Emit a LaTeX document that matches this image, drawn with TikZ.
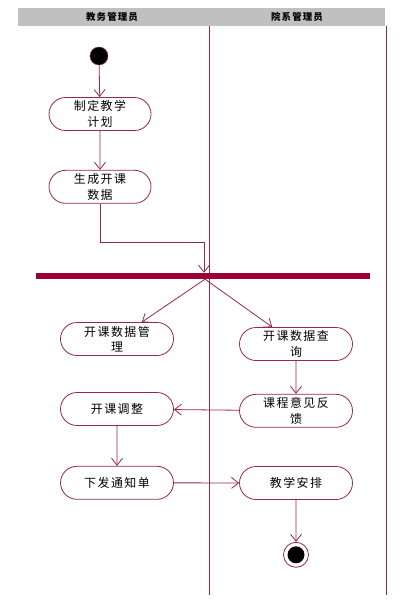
\documentclass[tikz,border=0pt]{standalone}
\usepackage{fontspec}
\setmainfont{Noto Sans CJK SC}
\usetikzlibrary{positioning,arrows.meta,shapes.misc}
\definecolor{umlred}{RGB}{150,40,80}
\definecolor{barred}{RGB}{155,0,55}
\definecolor{lanegray}{RGB}{192,192,192}

\begin{document}
\begin{tikzpicture}[
  x=1bp, y=-1bp,
  act/.style={rounded rectangle, draw=umlred, line width=0.8bp, align=center,
              minimum width=104bp, minimum height=33bp, inner sep=1bp,
              font=\fontsize{12}{15.5}\selectfont\addfontfeature{LetterSpace=12}, fill=white},
  wideact/.style={act, minimum width=115bp},
  startdot/.style={circle, fill=black, draw=umlred, minimum size=18bp, inner sep=0pt},
  endring/.style={circle, draw=umlred, line width=0.8bp, fill=white, minimum size=25bp, inner sep=0pt},
  enddot/.style={circle, fill=black, minimum size=17bp, inner sep=0pt},
  forkbar/.style={rectangle, fill=barred, minimum width=334bp, minimum height=6bp, inner sep=0pt},
  flow/.style={-{Straight Barb[length=7bp,width=11bp]}, line width=0.8bp, umlred},
  lane/.style={line width=0.8bp, umlred},
  hd/.style={font=\fontsize{9.5}{10}\selectfont\bfseries\addfontfeature{LetterSpace=12}}
]
\useasboundingbox (0,0) rectangle (412,607);
% swimlanes
\fill[lanegray] (18,8) rectangle (385,26);
\node[hd] (laneA) at (112,17) {教务管理员};
\node[hd] (laneB) at (297,17) {院系管理员};
\draw[lane] (209,26) -- (209,595);
\draw[lane] (386,26) -- (386,595);
% activities
\node[startdot] (start) at (99,56) {};
\node[act] (plan) at (100,114) {制定教学\\计划};
\node[act, below=39bp of plan] (gen) {生成开课\\数据};
\node[forkbar] (fork) at (203,276) {};
\node[wideact] (mgmt) at (117,339) {开课数据管\\理};
\node[wideact] (query) at (296,344) {开课数据查\\询};
\node[wideact, below=33bp of query] (feedback) {课程意见反\\馈};
\node[wideact] (adjust) at (117,409) {开课调整};
\node[wideact, below=40bp of adjust] (notice) {下发通知单};
\node[wideact] (arrange) at (296,483) {教学安排};
\node[endring, below=42bp of arrange] (stop) {};
\node[enddot] (stopcore) at (stop) {};
% transitions
\draw[flow] (start) -- (plan);
\draw[flow] (plan) -- (gen);
\draw[flow] (gen.south) -- ++(0,39) -| ([xshift=1bp]fork.north);
\draw[flow] ([xshift=2bp]fork.south) -- (mgmt);
\draw[flow] ([xshift=2bp]fork.south) -- (query);
\draw[flow] (query) -- (feedback);
\draw[flow] (feedback) -- (adjust);
\draw[flow] (adjust) -- (notice);
\draw[flow] (notice) -- (arrange);
\draw[flow] (arrange) -- (stop);
\end{tikzpicture}
\end{document}
